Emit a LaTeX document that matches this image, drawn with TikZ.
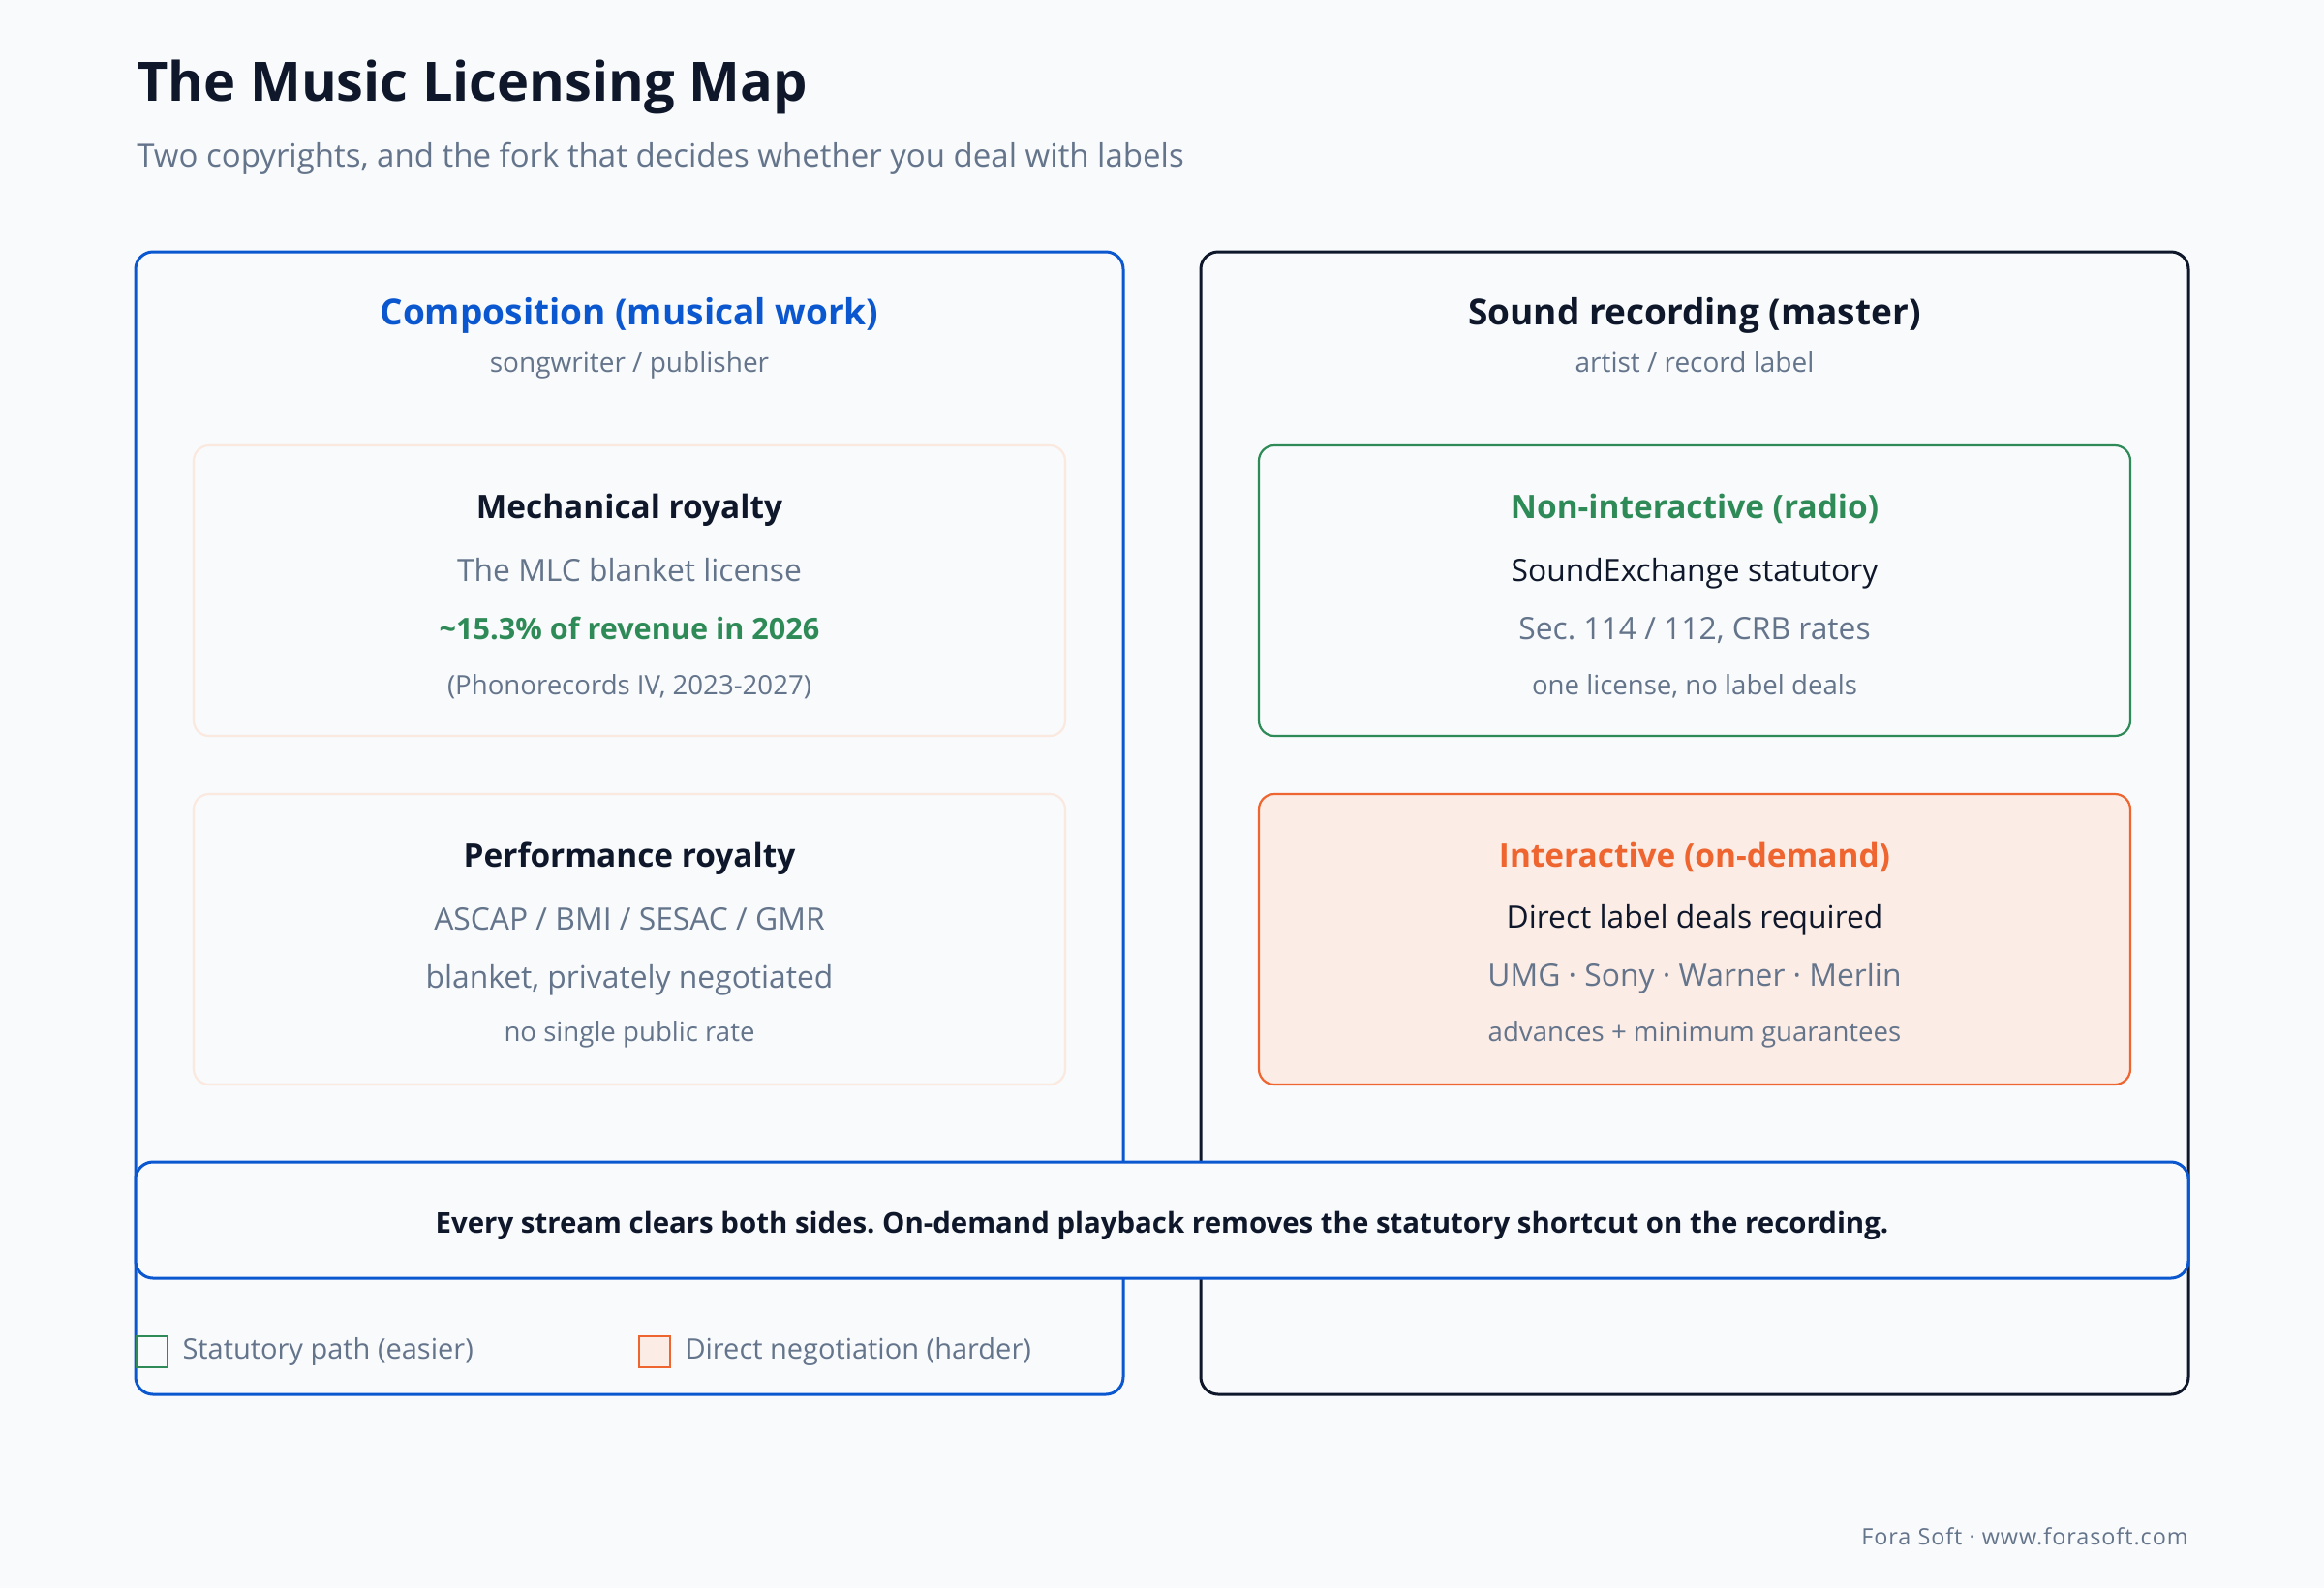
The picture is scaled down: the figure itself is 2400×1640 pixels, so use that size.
\documentclass[tikz,border=0pt]{standalone}
\usepackage{fontspec}
\setmainfont{Open Sans}
\usetikzlibrary{positioning}
\frenchspacing

\definecolor{bg}{HTML}{F8FAFC}
\definecolor{ink}{HTML}{0F172A}
\definecolor{muted}{HTML}{64748B}
\definecolor{compblue}{HTML}{0B57D0}
\definecolor{statgreen}{HTML}{2E8B57}
\definecolor{dealorange}{HTML}{EF6530}
\definecolor{dealfill}{HTML}{FBECE6}
\definecolor{faint}{HTML}{FBE9E0}

\begin{document}
\begin{tikzpicture}
[x=0.5pt, y=-0.5pt, node distance=8pt,
 side/.style={draw, line width=1.5pt, rounded corners=9pt, fill=bg,
   minimum width=510pt, minimum height=590pt},
 card/.style={draw, line width=1.1pt, rounded corners=8pt, fill=bg,
   minimum width=450pt, minimum height=150pt},
 head/.style={anchor=base, font=\fontsize{18.5}{22}\selectfont\bfseries},
 who/.style={anchor=base, text=muted, font=\fontsize{14}{17}\selectfont},
 cardtitle/.style={anchor=base, font=\fontsize{16.7}{20}\selectfont\bfseries},
 line/.style={anchor=base, text=muted, font=\fontsize{15.9}{19}\selectfont},
 note/.style={anchor=base, text=muted, font=\fontsize{13.8}{16}\selectfont},
 swatch/.style={draw, line width=1.1pt, minimum size=16pt, inner sep=0pt}]

% page
\fill[bg] (0,0) rectangle (2400,1640);
\useasboundingbox (0,0) rectangle (2400,1640);

% heading
\node[anchor=base west, inner sep=0pt, text=ink, font=\fontsize{28}{34}\selectfont\bfseries]
  (title) at (141,104) {The Music Licensing Map};
\node[anchor=base west, inner sep=0pt, text=muted, font=\fontsize{16.5}{20}\selectfont]
  (subtitle) at (141,172) {Two copyrights, and the fork that decides whether you deal with labels};

% the two copyrights
\node[side, draw=compblue] (comp) at (650,850) {};
\node[side, draw=ink] (master) at (1750,850) {};

\node[head, text=compblue] (comphead) at (650,335) {Composition (musical work)};
\node[who] (compwho) at (650,384) {songwriter / publisher};
\node[head, text=ink] (masterhead) at (1750,335) {Sound recording (master)};
\node[who] (masterwho) at (1750,384) {artist / record label};

% composition side
\node[card, draw=faint] (mech) at (650,610) {};
\node[cardtitle, text=ink] (mechtitle) at (650,535) {Mechanical royalty};
\node[line] (mechwho) at (650,600) {The MLC blanket license};
\node[line, text=statgreen, font=\fontsize{15.3}{18}\selectfont\bfseries] (mechrate) at (650,660) {\textasciitilde 15.3\% of revenue in 2026};
\node[note] (mechnote) at (650,717) {(Phonorecords IV, 2023-2027)};

\node[card, draw=faint] (perf) at (650,970) {};
\node[cardtitle, text=ink] (perftitle) at (650,895) {Performance royalty};
\node[line] (perfwho) at (650,960) {ASCAP / BMI / SESAC / GMR};
\node[line] (perfrate) at (650,1020) {blanket, privately negotiated};
\node[note] (perfnote) at (650,1075) {no single public rate};

% recording side
\node[card, draw=statgreen] (radio) at (1750,610) {};
\node[cardtitle, text=statgreen] (radiotitle) at (1750,535) {Non-interactive (radio)};
\node[line, text=ink] (radiowho) at (1750,600) {SoundExchange statutory};
\node[line] (radiorate) at (1750,660) {Sec. 114 / 112, CRB rates};
\node[note] (radionote) at (1750,717) {one license, no label deals};

\node[card, draw=dealorange, fill=dealfill] (demand) at (1750,970) {};
\node[cardtitle, text=dealorange] (demandtitle) at (1750,895) {Interactive (on-demand)};
\node[line, text=ink] (demandwho) at (1750,958) {Direct label deals required};
\node[line] (demandrate) at (1750,1018) {UMG · Sony · Warner · Merlin};
\node[note] (demandnote) at (1750,1075) {advances + minimum guarantees};

% banner across both
\node[draw=compblue, line width=1.5pt, rounded corners=9pt, fill=bg,
  minimum width=1060pt, minimum height=60pt, text=ink,
  text height=16pt, text depth=3pt,
  font=\fontsize{14.7}{18}\selectfont\bfseries] (banner) at (1200,1260)
  {Every stream clears both sides. On-demand playback removes the statutory shortcut on the recording.};

% legend
\node[swatch, draw=statgreen, fill=bg] (statsq) at (157,1396) {};
\node[right=7pt of statsq, inner sep=0pt, text=muted, font=\fontsize{14.5}{18}\selectfont] (stattext) {Statutory path (easier)};
\node[swatch, draw=dealorange, fill=dealfill] (dealsq) at (676,1396) {};
\node[right=7pt of dealsq, inner sep=0pt, text=muted, font=\fontsize{14.5}{18}\selectfont] (dealtext) {Direct negotiation (harder)};

% footer
\node[anchor=base east, inner sep=0pt, text=muted, font=\fontsize{11.7}{14}\selectfont\addfontfeatures{LetterSpace=4}]
  (footer) at (2260,1595) {Fora Soft · www.forasoft.com};
\end{tikzpicture}
\end{document}
